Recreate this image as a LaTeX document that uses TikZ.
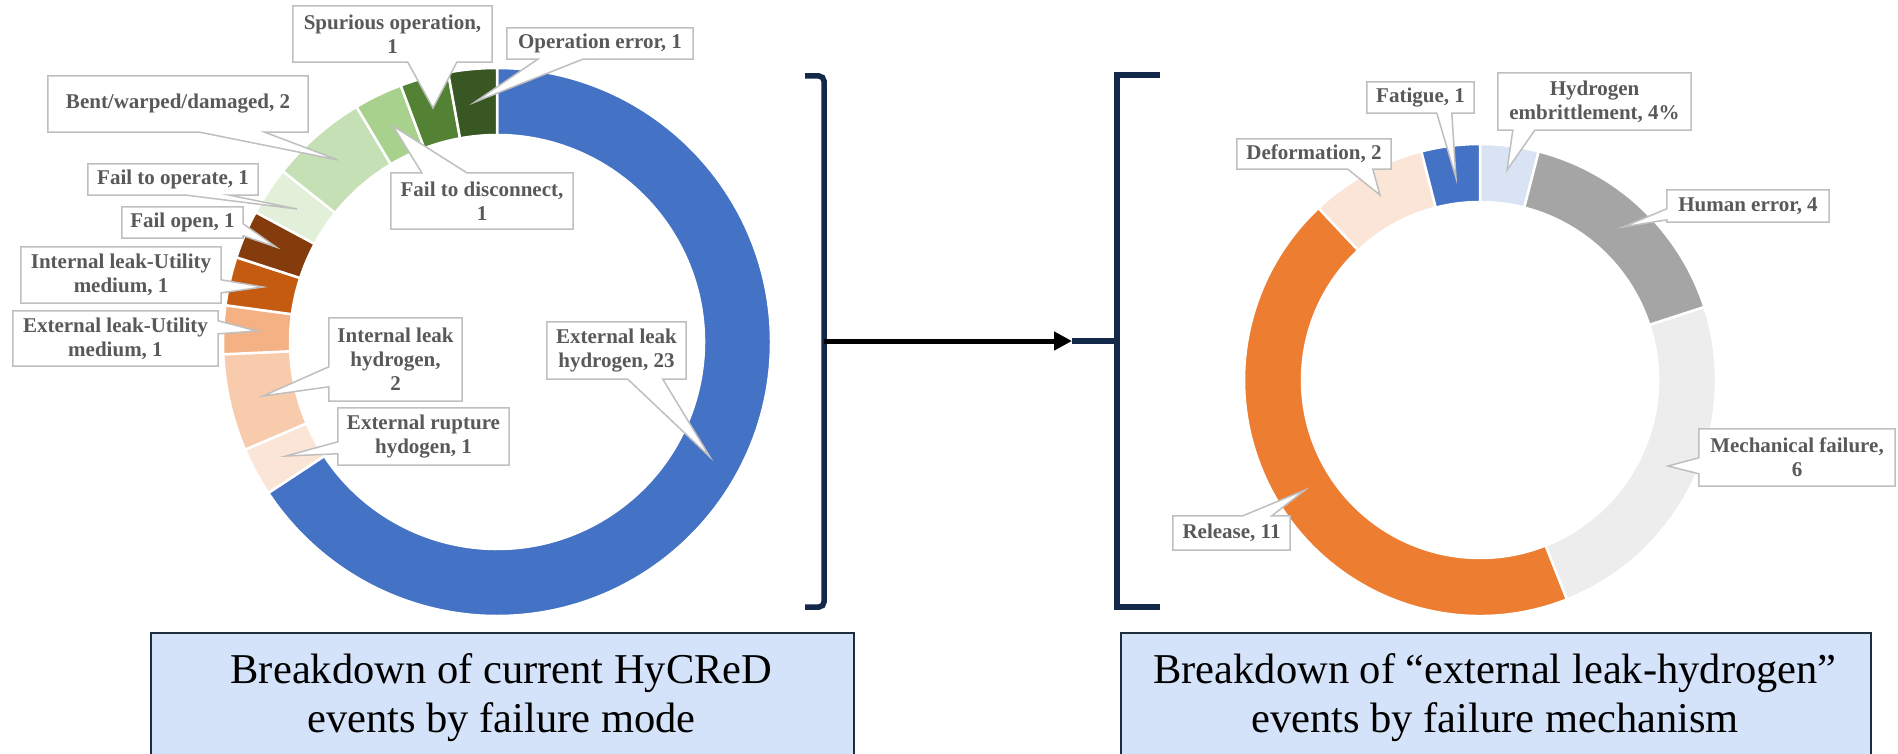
\documentclass[tikz,border=0pt]{standalone}
\usepackage{fontspec}
\setmainfont{Liberation Serif}
\usetikzlibrary{arrows.meta,calc}
\definecolor{navy}{HTML}{14294A}
\definecolor{cBlue}{HTML}{4472C4}
\definecolor{cOrA}{HTML}{FBE5D6}
\definecolor{cOrB}{HTML}{F8CBAD}
\definecolor{cOrC}{HTML}{F4B183}
\definecolor{cOrD}{HTML}{C55A11}
\definecolor{cOrE}{HTML}{843C0C}
\definecolor{cGrA}{HTML}{E2F0D9}
\definecolor{cGrB}{HTML}{C5E0B4}
\definecolor{cGrC}{HTML}{A9D18E}
\definecolor{cGrD}{HTML}{548235}
\definecolor{cGrE}{HTML}{385723}
\definecolor{cLtBlue}{HTML}{DAE3F3}
\definecolor{cGray}{HTML}{A5A5A5}
\definecolor{cLtGray}{HTML}{EDEDED}
\definecolor{cOrange}{HTML}{ED7D31}
\definecolor{labtext}{HTML}{595959}
\definecolor{coline}{HTML}{BFBFBF}
\definecolor{boxfill}{HTML}{D5E3FA}
\definecolor{boxline}{HTML}{1F2D3D}
\pgfdeclarelayer{bgfill}
\pgfdeclarelayer{ring}
\pgfdeclarelayer{callout}
\pgfsetlayers{bgfill,ring,callout,main}
\newcommand{\donutseg}[3]{%
  \filldraw[fill=#3, draw=white, line width=2.5pt, line join=round]
    (#1:\RadO) arc[start angle=#1, end angle=#2, radius=\RadO]
    -- (#2:\RadI) arc[start angle=#2, end angle=#1, radius=\RadI] -- cycle;}
% callout outlines: node, offset1, offset2, tip
\newcommand{\coB}[4]{\path[co] (#1.north west) -- (#1.north east) -- (#1.south east)
  -- ($(#1.south west)+(#3,0)$) -- (#4) -- ($(#1.south west)+(#2,0)$) -- (#1.south west) -- cycle;}
\newcommand{\coT}[4]{\path[co] (#1.south west) -- (#1.north west) -- ($(#1.north west)+(#2,0)$)
  -- (#4) -- ($(#1.north west)+(#3,0)$) -- (#1.north east) -- (#1.south east) -- cycle;}
\newcommand{\coL}[4]{\path[co] (#1.north west) -- (#1.north east) -- (#1.south east) -- (#1.south west)
  -- ($(#1.north west)+(0,#3)$) -- (#4) -- ($(#1.north west)+(0,#2)$) -- cycle;}
\newcommand{\coR}[4]{\path[co] (#1.north west) -- (#1.north east) -- ($(#1.north east)+(0,#2)$)
  -- (#4) -- ($(#1.north east)+(0,#3)$) -- (#1.south east) -- (#1.south west) -- cycle;}
\tikzset{
  lbl/.style={font=\bfseries\fontsize{21}{24}\selectfont, text=labtext, align=center, inner sep=0pt},
  co/.style={draw=coline, fill=white, line width=1.5pt, line join=miter},
  bigbox/.style={draw=boxline, fill=boxfill, line width=2pt, inner sep=0pt, anchor=north west},
  bigtxt/.style={font=\fontsize{42.5}{49}\selectfont, align=center, inner sep=0pt, text=black},
  brk/.style={draw=navy, line width=5.5pt},
}
\begin{document}
\begin{tikzpicture}[x=1pt,y=-1pt]
\useasboundingbox (0,0) rectangle (1898,754);
\clip (0,0) rectangle (1898,754);
\begin{pgfonlayer}{bgfill}
\fill[white] (0,0) rectangle (1898,754);
\end{pgfonlayer}

% ---------- left donut ----------
\begin{pgfonlayer}{ring}
\begin{scope}[shift={(497,342)}, yscale=-1]
  \def\RadO{274}\def\RadI{207}
  \donutseg{90}{-146.571}{cBlue}
  \donutseg{-146.571}{-156.857}{cOrA}
  \donutseg{-156.857}{-177.429}{cOrB}
  \donutseg{-177.429}{-187.714}{cOrC}
  \donutseg{-187.714}{-198}{cOrD}
  \donutseg{-198}{-208.286}{cOrE}
  \donutseg{-208.286}{-218.571}{cGrA}
  \donutseg{-218.571}{-239.143}{cGrB}
  \donutseg{-239.143}{-249.429}{cGrC}
  \donutseg{-249.429}{-259.714}{cGrD}
  \donutseg{-259.714}{-270}{cGrE}
\end{scope}
% ---------- right donut ----------
\begin{scope}[shift={(1480,380)}, yscale=-1]
  \def\RadO{236}\def\RadI{178}
  \donutseg{90}{75.6}{cLtBlue}
  \donutseg{75.6}{18}{cGray}
  \donutseg{18}{-68.4}{cLtGray}
  \donutseg{-68.4}{-226.8}{cOrange}
  \donutseg{-226.8}{-255.6}{cOrA}
  \donutseg{-255.6}{-270}{cBlue}
\end{scope}
\end{pgfonlayer}

% ---------- labels, left ----------
\node[lbl, minimum width=199pt, minimum height=56pt] (spur) at (392.5,34) {Spurious operation,\\1};
\node[lbl, minimum width=186pt, minimum height=31pt] (operr) at (600,43.5) {Operation error, 1};
\node[lbl, minimum width=260pt, minimum height=56pt] (bent) at (178,104) {Bent/warped/damaged, 2};
\node[lbl, minimum width=182pt, minimum height=56pt] (fdisc) at (482,201) {Fail to disconnect,\\1};
\node[lbl, minimum width=170pt, minimum height=31pt] (fop) at (173,179.5) {Fail to operate, 1};
\node[lbl, minimum width=121pt, minimum height=31pt] (fopen) at (182.5,222.5) {Fail open, 1};
\node[lbl, minimum width=200pt, minimum height=56pt] (intu) at (121,275) {Internal leak-Utility\\medium, 1};
\node[lbl, minimum width=205pt, minimum height=55pt] (extu) at (115.5,338.5) {External leak-Utility\\medium, 1};
\node[lbl, minimum width=133pt, minimum height=83pt] (intH) at (395.5,359.5) {Internal leak\\hydrogen,\\2};
\node[lbl, minimum width=171pt, minimum height=57pt] (extR) at (423.5,436.5) {External rupture\\hydogen, 1};
\node[lbl, minimum width=139pt, minimum height=57pt] (extL) at (616.5,350.5) {External leak\\hydrogen, 23};
% ---------- labels, right ----------
\node[lbl, minimum width=107pt, minimum height=31pt] (fat) at (1420.5,97.5) {Fatigue, 1};
\node[lbl, minimum width=193pt, minimum height=57pt] (hemb) at (1594.5,101.5) {Hydrogen\\embrittlement, 4\%};
\node[lbl, minimum width=154pt, minimum height=30pt] (defo) at (1314,154) {Deformation, 2};
\node[lbl, minimum width=162pt, minimum height=32pt] (hum) at (1748,206) {Human error, 4};
\node[lbl, minimum width=196pt, minimum height=57pt] (mech) at (1797,457.5) {Mechanical failure,\\6};
\node[lbl, minimum width=117pt, minimum height=34pt] (rel) at (1231.5,533) {Release, 11};

% callout tips
\coordinate (t-spur) at (433,108);
\coordinate (t-operr) at (475,102);
\coordinate (t-bent) at (338,160);
\coordinate (t-fdisc) at (393,126);
\coordinate (t-fop) at (297,209);
\coordinate (t-fopen) at (276,247);
\coordinate (t-intu) at (263,287);
\coordinate (t-extu) at (257,331);
\coordinate (t-intH) at (263,396);
\coordinate (t-extR) at (286,456);
\coordinate (t-extL) at (710,457);
\coordinate (t-fat) at (1456,178);
\coordinate (t-hemb) at (1507,170);
\coordinate (t-defo) at (1380,195);
\coordinate (t-hum) at (1623,227);
\coordinate (t-mech) at (1668,466);
\coordinate (t-rel) at (1305,490);

\begin{pgfonlayer}{callout}
\coB{spur}{115}{164}{t-spur}
\coB{operr}{31}{76}{t-operr}
\coB{bent}{152}{217}{t-bent}
\coT{fdisc}{31}{76}{t-fdisc}
\coB{fop}{99}{142}{t-fop}
\coR{fopen}{17}{29}{t-fopen}
\coR{intu}{33}{46}{t-intu}
\coR{extu}{10}{23}{t-extu}
\coL{intH}{49}{69}{t-intH}
\coL{extR}{34}{46}{t-extR}
\coB{extL}{81}{116}{t-extL}
\coB{fat}{70}{85}{t-fat}
\coB{hemb}{15}{37}{t-hemb}
\coB{defo}{111}{136}{t-defo}
\coL{hum}{19}{30}{t-hum}
\coL{mech}{29}{45}{t-mech}
\coT{rel}{70}{99}{t-rel}
\end{pgfonlayer}

% ---------- brackets and arrow ----------
\draw[brk, rounded corners=5pt] (805,76) -- (824,76) -- (824,607) -- (805,607);
\draw[brk] (1160,75) -- (1117,75) -- (1117,607) -- (1160,607);
\coordinate (bL) at (824,341);
\coordinate (aTip) at (1072,341);
\coordinate (bR) at (1117,341);
\draw[line width=5pt, black, -{Triangle[length=18pt,width=18pt]}] (bL) -- (aTip);
\draw[brk] (aTip) -- (bR);

% ---------- bottom boxes ----------
\node[bigbox, minimum width=703pt, minimum height=126pt] (boxL) at (150,632) {};
\node[bigbox, minimum width=750pt, minimum height=126pt] (boxR) at (1120,632) {};
\node[bigtxt] (txtL) at (501.5,698) {Breakdown of current HyCReD\\events by failure mode};
\node[bigtxt] (txtR) at (1495,698) {Breakdown of “external leak-hydrogen”\\events by failure mechanism};
\end{tikzpicture}
\end{document}
